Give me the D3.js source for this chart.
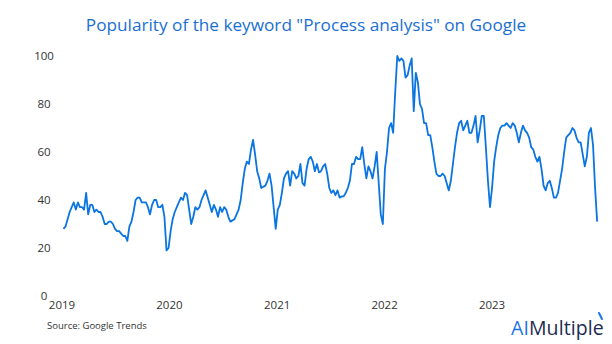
<!DOCTYPE html>
<html>
<head>
<meta charset="utf-8">
<script src="https://cdn.jsdelivr.net/npm/d3@7"></script>
<style>
  html, body { margin: 0; padding: 0; background: #ffffff; }
  svg { display: block; }
</style>
</head>
<body>
<svg id="chart" width="612" height="344"></svg>
<script>
// ---- data (weekly Google Trends index) ----
const startDate = "2019-01-06";
const values2019 = [28,29,32,35,37,39,36,39,37,37,36,43,34,38,38,35,36,35,35,33,30,30,31,31,30,28,27,27,26,25,25,23,29,31,35,40,41,41,39,39,39,37,34,38,40,40,37,37,38,33,19,20];
const values2020 = [27,32,35,37,39,41,40,43,42,36,30,33,37,36,37,40,42,44,41,38,35,38,36,33,37,35,37,36,33,31,31.5,32,34,36,40,47,53,56,55,61,65,59,52,49,45,45.5,46,48,51,46,37,28];
const values2021 = [36,38,43,49,51,52,46,52,51,49,50,55,47,46,53,57,58,56,52,55,51.5,52,54,55,51,45,43,44,42,44,41,41.5,41.5,43,45,48,55,55,58,57,57,62,55,49,54,52,49,54,60,47,34,30];
const values2022 = [53,60,70,72,68,85,100,98,99,98,91,92,96,99,77,93,89,80,78,72,72,67,67,62,56,51,50,50,51,50,47,44,48,55,62,68,72,73,69,71,73,68,68,71,75,64,69,75,75,62,48,37];
const values2023 = [45,56,62,67,70,71,71,72,71,70,72,71,68,64,68,71,69,68,66,62,61,58,56,58,53,46,44,47,48,45,41,41,43,48,53,60,66,67,68,70,69,66,64,64,59,54,58,68,70,63,45,31];
const yearLabels = ["2019","2020","2021","2022","2023"];
const yTicks = [0,20,40,60,80,100];
const titleText = 'Popularity of the keyword "Process analysis" on Google';
const sourceText = "Source: Google Trends";

// ---- build series ----
const allValues = [].concat(values2019, values2020, values2021, values2022, values2023);
const parse = d3.utcParse("%Y-%m-%d");
const t0 = parse(startDate);
const series = allValues.map((v, i) => ({ date: d3.utcDay.offset(t0, i * 7), value: v }));

const svg = d3.select("#chart");
const x = d3.scaleUtc()
  .domain([parse("2019-01-01"), parse("2024-01-01")])
  .range([62, 599.5]);
const y = d3.scaleLinear().domain([0, 100]).range([296, 56]);

const fontFam = "'Open Sans', 'Noto Sans', sans-serif";

// title
svg.append("text")
  .attr("x", 306).attr("y", 31)
  .attr("text-anchor", "middle")
  .attr("font-family", fontFam)
  .attr("font-size", 17.2)
  .attr("fill", "#1a6fd4")
  .text(titleText);

// y axis labels
svg.append("g").selectAll("text").data(yTicks).join("text")
  .attr("x", 44)
  .attr("y", d => y(d))
  .attr("dy", "0.35em")
  .attr("text-anchor", "middle")
  .attr("font-family", fontFam)
  .attr("font-size", 11.5)
  .attr("fill", "#333333")
  .text(d => d);

// x axis labels
svg.append("g").selectAll("text").data(yearLabels).join("text")
  .attr("x", d => x(parse(d + "-01-01")))
  .attr("y", 309)
  .attr("text-anchor", "middle")
  .attr("font-family", fontFam)
  .attr("font-size", 11.5)
  .attr("fill", "#333333")
  .text(d => d);

// line
const line = d3.line()
  .x(d => x(d.date))
  .y(d => y(d.value));
svg.append("path")
  .datum(series)
  .attr("fill", "none")
  .attr("stroke", "#0a74e0")
  .attr("stroke-width", 1.8)
  .attr("stroke-linejoin", "round")
  .attr("d", line);

// source
svg.append("text")
  .attr("x", 47).attr("y", 329)
  .attr("font-family", fontFam)
  .attr("font-size", 9.5)
  .attr("fill", "#333333")
  .text(sourceText);

// logo
const logo = svg.append("text")
  .attr("x", 511).attr("y", 335)
  .attr("font-family", fontFam)
  .attr("font-size", 19.5)
  .attr("letter-spacing", "0.1");
logo.append("tspan").attr("fill", "#1a73e8").text("AI");
logo.append("tspan").attr("fill", "#1d2b4f").text("Multiple");
svg.append("path")
  .attr("d", "M599,313 L602,319")
  .attr("stroke", "#1a73e8")
  .attr("stroke-width", 2)
  .attr("stroke-linecap", "round");
</script>
</body>
</html>
